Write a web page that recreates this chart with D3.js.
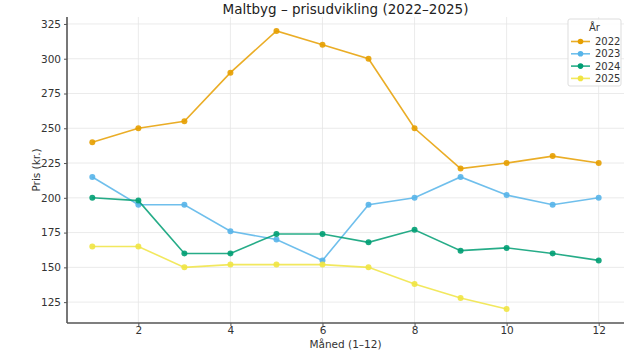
<!DOCTYPE html>
<html><head><meta charset="utf-8">
<script src="https://cdn.jsdelivr.net/npm/d3@7"></script>
<style>
body{margin:0;background:#fff;}
text{font-family:"DejaVu Sans",sans-serif;}
</style></head>
<body><svg id="c" width="642" height="356"></svg>
<script>
const months = [1,2,3,4,5,6,7,8,9,10,11,12];
const years = ["2022","2023","2024","2025"];
const v2022 = [240,250,255,290,320,310,300,250,221,225,230,225];
const v2023 = [215,195,195,176,170,155,195,200,215,202,195,200];
const v2024 = [200,198,160,160,174,174,168,177,162,164,160,155];
const v2025 = [165,165,150,152,152,152,150,138,128,120];
const colors = ["#E69F00","#56B4E9","#009E73","#F0E442"];
const xTicks = [2,4,6,8,10,12];
const yTicks = [125,150,175,200,225,250,275,300,325];
const title = "Maltbyg – prisudvikling (2022–2025)";
const xLabel = "Måned (1–12)";
const yLabel = "Pris (kr.)";
const legendTitle = "År";

const series = [v2022,v2023,v2024,v2025].map((vals,i)=>({year:years[i],color:colors[i],pts:vals.map((v,j)=>({m:months[j],v}))}));

const svg = d3.select("#c");
const L=67, R=624, T=17, B=323;
const x = d3.scaleLinear().domain([0.45,12.55]).range([L,R]);
const y = d3.scaleLinear().domain([110,330]).range([B,T]);

// grid
const g = svg.append("g");
g.selectAll(".gx").data(xTicks).join("line").attr("x1",d=>x(d)).attr("x2",d=>x(d)).attr("y1",T).attr("y2",B).attr("stroke","#e6e6e6").attr("stroke-width",0.8);
g.selectAll(".gy").data(yTicks).join("line").attr("x1",L).attr("x2",R).attr("y1",d=>y(d)).attr("y2",d=>y(d)).attr("stroke","#e6e6e6").attr("stroke-width",0.8);

// axes
const xa = svg.append("g").attr("transform",`translate(0,${B})`).call(d3.axisBottom(x).tickValues(xTicks).tickSize(3).tickPadding(1).tickFormat(d3.format("d")));
const ya = svg.append("g").attr("transform",`translate(${L},0)`).call(d3.axisLeft(y).tickValues(yTicks).tickSize(3).tickPadding(3).tickFormat(d3.format("d")));
[xa,ya].forEach(a=>{
  a.select(".domain").attr("stroke","#555").attr("stroke-width",1.6);
  a.selectAll(".tick line").attr("stroke","#555");
  a.selectAll(".tick text").attr("fill","#333").attr("font-size",10.5).attr("font-family","DejaVu Sans");
});
ya.select(".domain").attr("d",`M0,${B}V${T}`);
xa.select(".domain").attr("d",`M${L},0H${R}`);

// lines
const line = d3.line().x(d=>x(d.m)).y(d=>y(d.v));
series.forEach(s=>{
  svg.append("path").datum(s.pts).attr("d",line).attr("fill","none").attr("stroke",s.color).attr("stroke-width",1.6).attr("stroke-opacity",0.85);
  svg.append("g").selectAll("circle").data(s.pts).join("circle").attr("cx",d=>x(d.m)).attr("cy",d=>y(d.v)).attr("r",3).attr("fill",s.color).attr("fill-opacity",0.9);
});

// title & labels
svg.append("text").attr("x",(L+R)/2).attr("y",14).attr("text-anchor","middle").attr("font-size",13.5).attr("fill","#222").text(title);
svg.append("text").attr("x",(L+R)/2).attr("y",348).attr("text-anchor","middle").attr("font-size",10.5).attr("fill","#333").text(xLabel);
svg.append("text").attr("transform",`translate(40,${(T+B)/2}) rotate(-90)`).attr("text-anchor","middle").attr("font-size",10.5).attr("fill","#333").text(yLabel);

// legend
const lg = svg.append("g").attr("transform","translate(568,19)");
lg.append("rect").attr("width",53).attr("height",67).attr("rx",2).attr("fill","#fff").attr("fill-opacity",0.85).attr("stroke","#ddd");
lg.append("text").attr("x",26.5).attr("y",12).attr("text-anchor","middle").attr("font-size",10).attr("fill","#333").text(legendTitle);
series.forEach((s,i)=>{
  const yy = 22.5 + i*12.3;
  lg.append("line").attr("x1",3).attr("x2",22).attr("y1",yy).attr("y2",yy).attr("stroke",s.color).attr("stroke-width",1.6).attr("stroke-opacity",0.85);
  lg.append("circle").attr("cx",12.5).attr("cy",yy).attr("r",2.8).attr("fill",s.color);
  lg.append("text").attr("x",27).attr("y",yy+3.5).attr("font-size",10).attr("fill","#333").text(s.year);
});
</script></body></html>
